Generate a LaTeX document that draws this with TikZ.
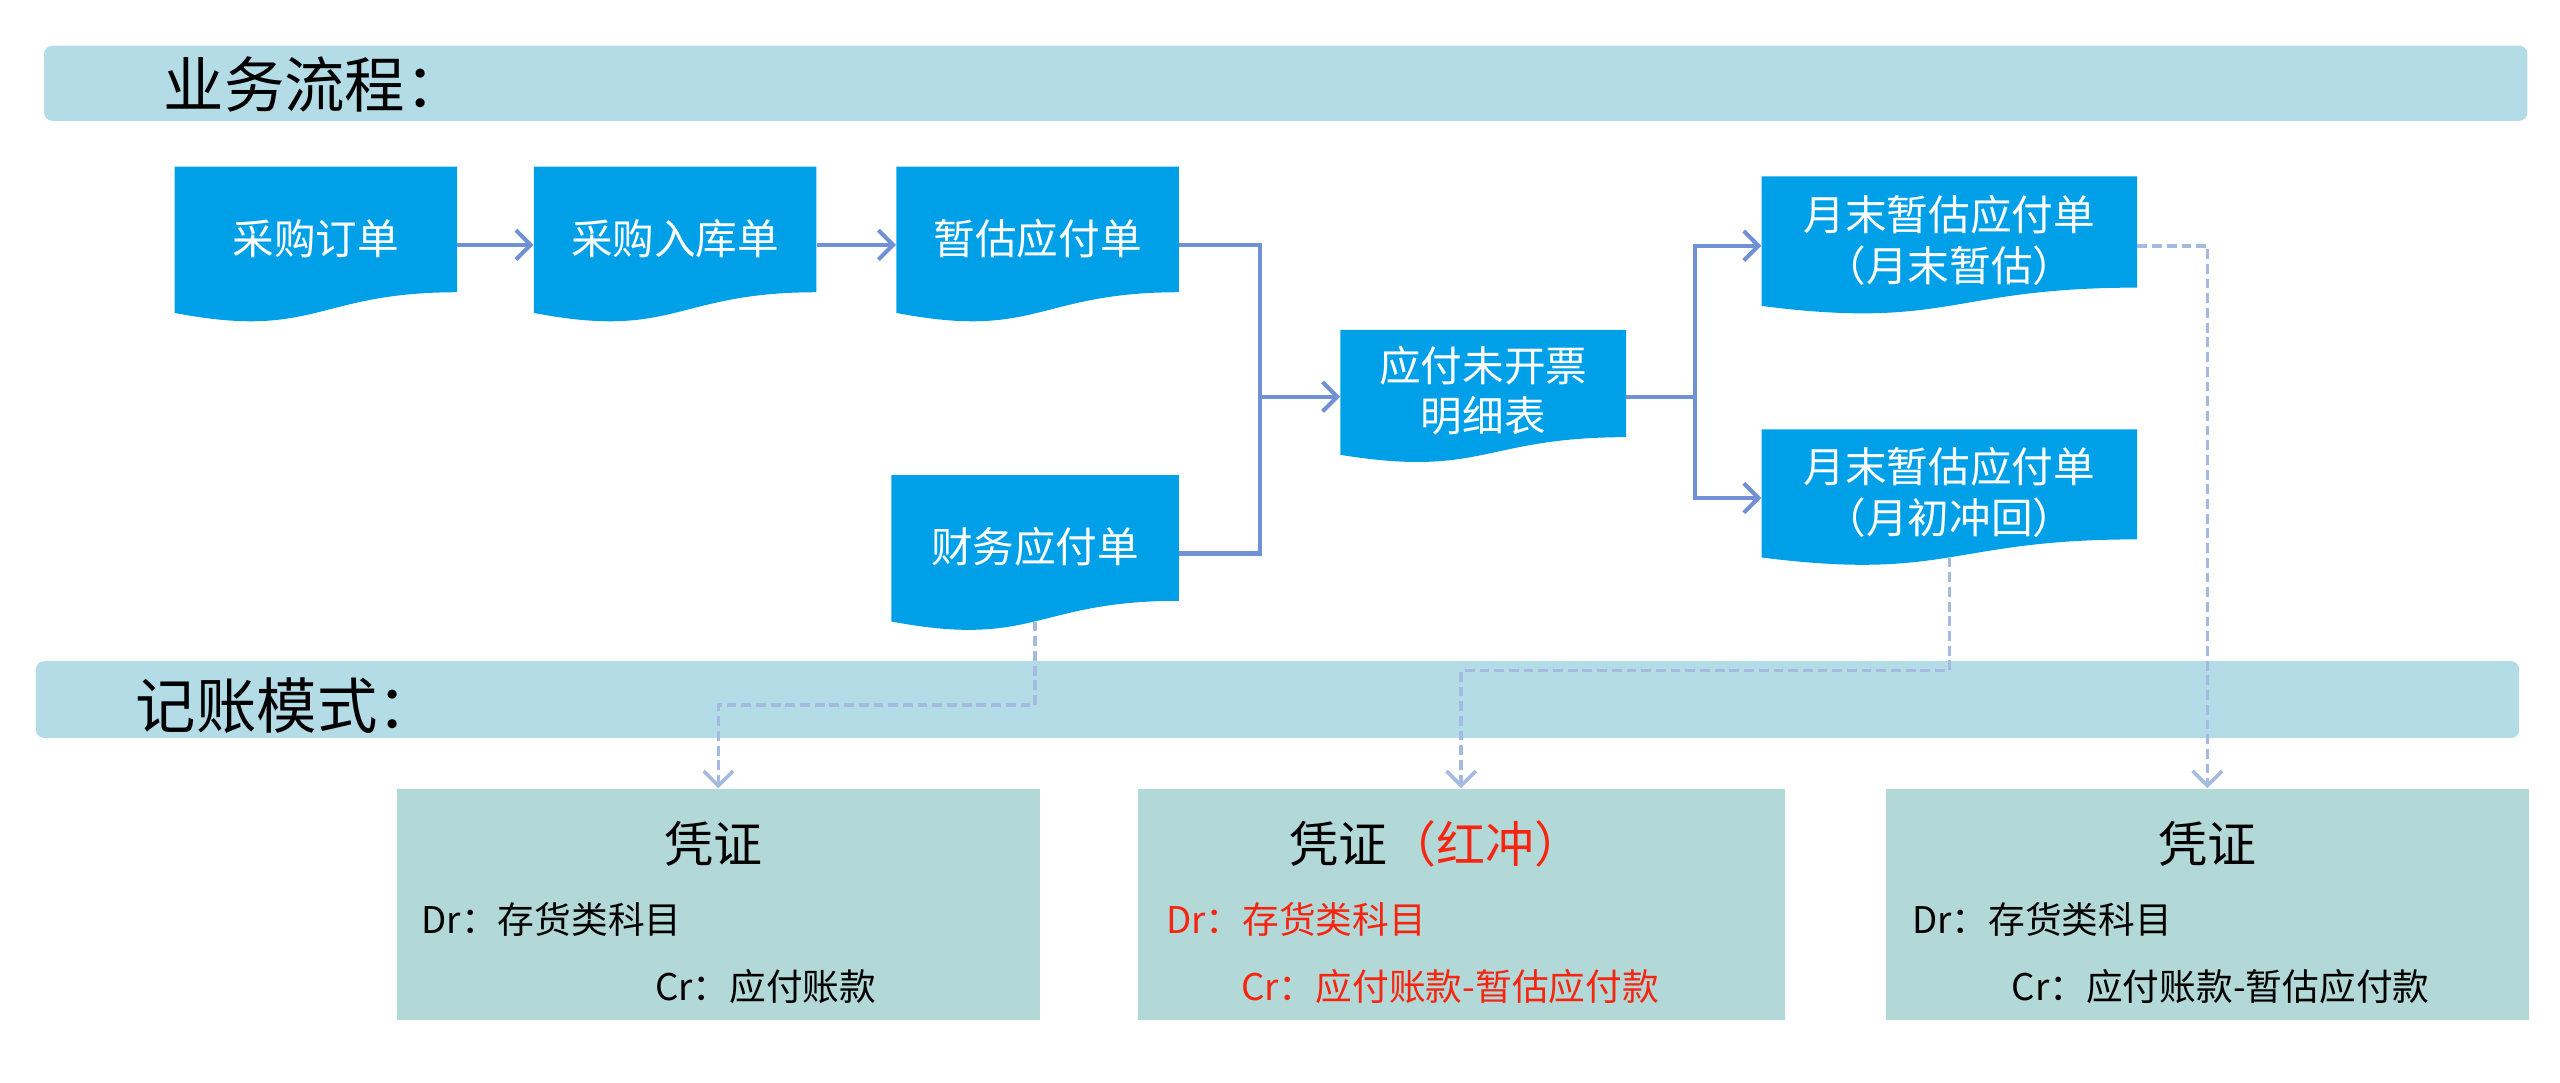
\documentclass[tikz,border=0pt]{standalone}
\usepackage{fontspec}
\newfontfamily\cjk{Noto Sans CJK SC}
\usetikzlibrary{arrows.meta,calc}
\definecolor{docblue}{HTML}{00A0E9}
\definecolor{bannerc}{HTML}{B4DCE6}
\definecolor{voucherc}{HTML}{B3D8D8}
\definecolor{flowc}{HTML}{7092D4}
\definecolor{dashc}{HTML}{A4BAE0}
\definecolor{redc}{HTML}{F5250F}
\newcommand{\doctext}[2][10pt]{\raisebox{#1}{\begin{tabular}{@{}c@{}}#2\end{tabular}}}
\begin{document}
\begin{tikzpicture}[x=1pt,y=-1pt,font=\cjk,
  docbox/.style={inner sep=0pt, text=white,
    font=\cjk\fontsize{25.5}{30.5}\selectfont,
    path picture={
      \fill[docblue] let \p1=(path picture bounding box.north west),
                         \p2=(path picture bounding box.south east) in
        (\x1,\y1) -- (\x2,\y1) -- (\x2,{\y1+0.802*(\y2-\y1)})
        .. controls ({0.5*(\x1+\x2)},{\y1+0.802*(\y2-\y1)}) and ({0.5*(\x1+\x2)},{\y1+1.1075*(\y2-\y1)})
        .. (\x1,{\y1+0.934*(\y2-\y1)}) -- cycle;
    }},
  banner/.style={fill=bannerc, rounded corners=5pt, inner sep=0pt},
  voucher/.style={fill=voucherc, inner sep=0pt, minimum height=142},
  heading/.style={anchor=west, inner sep=0pt, font=\cjk\fontsize{37}{40}\selectfont},
  vtitle/.style={inner sep=0pt, font=\cjk\fontsize{30}{34}\selectfont},
  vline/.style={anchor=west, inner sep=0pt, font=\cjk\fontsize{22.5}{26}\selectfont},
  flow/.style={draw=flowc, line width=2.5pt},
  arr/.style={-{Straight Barb[length=9pt,width=18pt]}},
  dflow/.style={draw=dashc, line width=2.2pt, dash pattern=on 6pt off 3pt},
]
\useasboundingbox (0,0) rectangle (1568,663.3);
\fill[white] (0,0) rectangle (1568,663.3);

% banners
\node[banner, minimum width=1521, minimum height=46] (ban1) at (787.5,51) {};
\node[heading] (h1) at (100,52) {业务流程：};
\node[banner, minimum width=1521, minimum height=47] (ban2) at (782.5,428.5) {};
\node[heading] (h2) at (83,432) {记账模式：};

% document boxes
\node[docbox, minimum width=173, minimum height=96] (b1) at (193.5,150) {\doctext{采购订单}};
\node[docbox, minimum width=173, minimum height=96] (b2) at (413.5,150) {\doctext{采购入库单}};
\node[docbox, minimum width=173, minimum height=96] (b3) at (635.5,150) {\doctext{暂估应付单}};
\node[docbox, minimum width=176, minimum height=96] (b4) at (634,339) {\doctext{财务应付单}};
\node[docbox, minimum width=175, minimum height=82] (b5) at (908.5,243) {\doctext[7pt]{应付未开票\\明细表}};
\node[docbox, minimum width=230, minimum height=85] (b6) at (1194,150.5) {\doctext[8.5pt]{月末暂估应付单\\（月末暂估）}};
\node[docbox, minimum width=230, minimum height=84] (b7) at (1194,305) {\doctext[9pt]{月末暂估应付单\\（月初冲回）}};

% solid connectors
\coordinate (j1) at (772,243);
\coordinate (j2) at (1038,243);
\draw[flow,arr] (b1.east) -- (b2.west);
\draw[flow,arr] (b2.east) -- (b3.west);
\draw[flow] (b3.east) -| (j1);
\draw[flow] (b4.east) -| (j1);
\draw[flow,arr] (j1) -- (b5.west);
\draw[flow] (b5.east) -- (j2);
\draw[flow,arr] (j2) |- (b6.west);
\draw[flow,arr] (j2) |- (b7.west);

% vouchers
\node[voucher, minimum width=394] (v1) at (440,554) {};
\node[voucher, minimum width=396] (v2) at (895,554) {};
\node[voucher, minimum width=394] (v3) at (1352,554) {};

\node[vtitle] (v1t) at (437,517) {凭证};
\node[vline] (v1d) at (258,563) {Dr：存货类科目};
\node[vline] (v1c) at (401,604) {Cr：应付账款};

\node[vtitle] (v2t) at (880,517) {凭证{\color{redc}（红冲）}};
\node[vline, text=redc] (v2d) at (714,563) {Dr：存货类科目};
\node[vline, text=redc] (v2c) at (760,604) {Cr：应付账款-暂估应付款};

\node[vtitle] (v3t) at (1352,517) {凭证};
\node[vline] (v3d) at (1171,563) {Dr：存货类科目};
\node[vline] (v3c) at (1232,604) {Cr：应付账款-暂估应付款};

% dashed connectors
\coordinate (b4w) at ($(b4.north)!0.933!(b4.south)$);
\coordinate (b7w) at ($(b7.north)!0.933!(b7.south)$);
\draw[dflow,arr] (b4w) |- ($(v1.north)+(0,-51)$) -- (v1.north);
\draw[dflow,arr] (b7w) |- ($(v2.north)+(0,-72)$) -- (v2.north);
\draw[dflow,arr] (b6.east) -| (v3.north);
\end{tikzpicture}
\end{document}
